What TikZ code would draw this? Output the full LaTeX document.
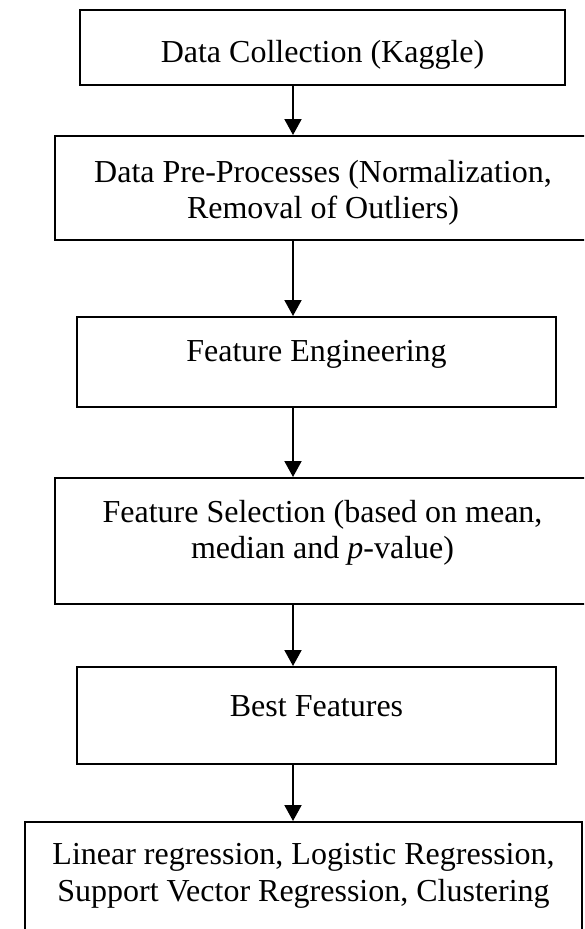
\documentclass[tikz,border=0pt]{standalone}
\usepackage{fontspec}
\setmainfont{Liberation Serif}
\usetikzlibrary{arrows.meta}

\newcommand{\tallstrut}[1]{\rule{0pt}{#1}}
\newcommand{\deepstrut}[1]{\rule[-#1]{0pt}{#1}}

\tikzset{
  stage/.style={draw=black, line width=2pt, align=center, inner sep=0pt,
    font=\fontsize{32}{36.5}\selectfont},
  flow/.style={line width=2pt, -{Triangle[width=17pt,length=16pt]}}
}

\begin{document}
\begin{tikzpicture}[x=1pt,y=1pt]
  \clip (0,0) rectangle (584,-929);
  % boxes
  \node[stage, minimum width=485pt, minimum height=75pt] (collect) at (322.5,-47.5) {\tallstrut{36pt}Data Collection (Kaggle)};
  \node[stage, minimum width=536pt, minimum height=104pt] (prep) at (323,-188) {\tallstrut{31.5pt}Data Pre-Processes (Normalization,\\ Removal of Outliers)};
  \node[stage, minimum width=479pt, minimum height=90pt] (engin) at (316.5,-362) {Feature Engineering\deepstrut{22pt}};
  \node[stage, minimum width=535pt, minimum height=126pt] (select) at (322.5,-541) {Feature Selection (based on mean,\\ median and \textit{p}-value)\deepstrut{23.5pt}};
  \node[stage, minimum width=479pt, minimum height=97pt] (best) at (316.5,-715.5) {Best Features\deepstrut{18pt}};
  \node[stage, minimum width=557pt, minimum height=108pt] (models) at (303.5,-876) {Linear regression, Logistic Regression,\\ Support Vector Regression, Clustering};
  % arrows
  \coordinate (spine) at (293,0);
  \draw[flow] (collect.south -| spine) -- (prep.north -| spine);
  \draw[flow] (prep.south -| spine) -- (engin.north -| spine);
  \draw[flow] (engin.south -| spine) -- (select.north -| spine);
  \draw[flow] (select.south -| spine) -- (best.north -| spine);
  \draw[flow] (best.south -| spine) -- (models.north -| spine);
\end{tikzpicture}
\end{document}
